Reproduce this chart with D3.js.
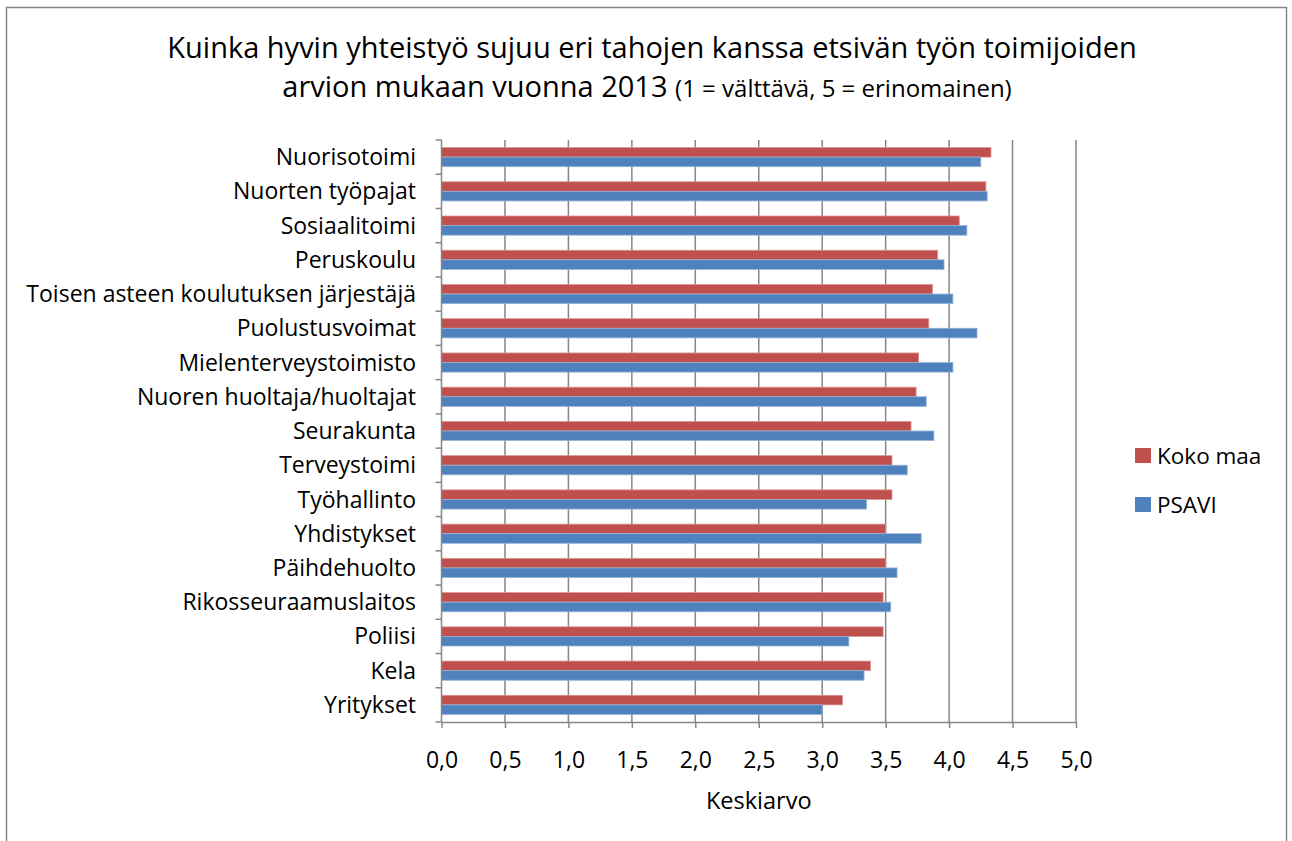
<!DOCTYPE html>
<html>
<head>
<meta charset="utf-8">
<script src="https://cdnjs.cloudflare.com/ajax/libs/d3/7.8.5/d3.min.js"></script>
<style>
  body { margin: 0; background: #fff; }
  text { font-family: "Open Sans", "Noto Sans", Arial, sans-serif; fill: #000; }
</style>
</head>
<body>
<div id="chart"></div>
<script>
// categories top to bottom
var categories = ["Nuorisotoimi", "Nuorten työpajat", "Sosiaalitoimi", "Peruskoulu",
  "Toisen asteen koulutuksen järjestäjä", "Puolustusvoimat", "Mielenterveystoimisto",
  "Nuoren huoltaja/huoltajat", "Seurakunta", "Terveystoimi", "Työhallinto", "Yhdistykset",
  "Päihdehuolto", "Rikosseuraamuslaitos", "Poliisi", "Kela", "Yritykset"];
var kokoMaa = [4.33, 4.29, 4.08, 3.91, 3.87, 3.84, 3.76, 3.74, 3.70, 3.55, 3.55, 3.50, 3.50, 3.48, 3.48, 3.38, 3.16];
var psavi   = [4.25, 4.30, 4.14, 3.96, 4.03, 4.22, 4.03, 3.82, 3.88, 3.67, 3.35, 3.78, 3.59, 3.54, 3.21, 3.33, 3.00];
var seriesNames = ["Koko maa", "PSAVI"];
var xTicks = [0, 0.5, 1, 1.5, 2, 2.5, 3, 3.5, 4, 4.5, 5];

var W = 1292, H = 841;
var margin = {top: 140, left: 441.5, right: 216, bottom: 119};
var colors = {"Koko maa": "#C0504D", "PSAVI": "#4F81BD"};
var strokes = {"Koko maa": "#D99694", "PSAVI": "#95B3D7"};

var svg = d3.select("#chart").append("svg").attr("width", W).attr("height", H);

// outer border
svg.append("rect").attr("x", 6.5).attr("y", 7.5).attr("width", 1280).attr("height", 850)
  .attr("fill", "none").attr("stroke", "#868686").attr("stroke-width", 1.5);

var x = d3.scaleLinear().domain([0, 5]).range([margin.left, W - margin.right]);
var y = d3.scaleBand().domain(categories).range([margin.top, H - margin.bottom]).paddingInner(0.44).paddingOuter(0.22);
var ySub = d3.scaleBand().domain(seriesNames).range([0, y.bandwidth()]);

// gridlines
svg.append("g").selectAll("line").data(xTicks.slice(1)).enter().append("line")
  .attr("x1", function(d){ return x(d); }).attr("x2", function(d){ return x(d); })
  .attr("y1", margin.top).attr("y2", H - margin.bottom)
  .attr("stroke", "#868686").attr("stroke-width", 1.5);

// bars
var rows = categories.map(function(c, i){ return {cat: c, vals: [
  {s: "Koko maa", v: kokoMaa[i]}, {s: "PSAVI", v: psavi[i]}]}; });

var groups = svg.append("g").selectAll("g").data(rows).enter().append("g")
  .attr("transform", function(d){ return "translate(0," + y(d.cat) + ")"; });
groups.selectAll("rect").data(function(d){ return d.vals; }).enter().append("rect")
  .attr("x", x(0))
  .attr("y", function(d){ return ySub(d.s); })
  .attr("width", function(d){ return x(d.v) - x(0); })
  .attr("height", ySub.bandwidth())
  .attr("fill", function(d){ return colors[d.s]; })
  .attr("stroke", function(d){ return strokes[d.s]; })
  .attr("stroke-width", 0.8);

// x axis
var xAxis = svg.append("g").attr("transform", "translate(0," + (H - margin.bottom) + ")")
  .call(d3.axisBottom(x).tickValues(xTicks).tickSize(6).tickSizeOuter(0)
    .tickFormat(function(d){ return d3.format(".1f")(d).replace(".", ","); }));
xAxis.select(".domain").attr("stroke", "#868686").attr("stroke-width", 1.5);
xAxis.selectAll(".tick line").attr("stroke", "#868686").attr("stroke-width", 1.5);
xAxis.selectAll(".tick text").attr("font-size", 23).attr("dy", 0).attr("y", 46)
  .style("font-family", "'Open Sans', Arial, sans-serif").attr("fill", "#000");

// y axis: ticks between categories
var yEdges = d3.range(categories.length + 1).map(function(i){
  return margin.top + i * (H - margin.bottom - margin.top) / categories.length; });
svg.append("line").attr("x1", x(0)).attr("x2", x(0)).attr("y1", margin.top).attr("y2", H - margin.bottom)
  .attr("stroke", "#868686").attr("stroke-width", 1.5);
svg.append("g").selectAll("line").data(yEdges).enter().append("line")
  .attr("x1", x(0) - 6).attr("x2", x(0)).attr("y1", function(d){ return d; }).attr("y2", function(d){ return d; })
  .attr("stroke", "#868686").attr("stroke-width", 1.5);

// category labels
svg.append("g").selectAll("text").data(categories).enter().append("text")
  .attr("x", 416).attr("y", function(d){ return y(d) + y.bandwidth() / 2; })
  .attr("dy", "0.35em").attr("text-anchor", "end").attr("font-size", 23)
  .text(function(d){ return d; });

// axis title
svg.append("text").attr("x", (x(0) + x(5)) / 2).attr("y", 809).attr("text-anchor", "middle")
  .attr("font-size", 23.5).text("Keskiarvo");

// chart title
var title = svg.append("text").attr("text-anchor", "middle").attr("font-size", 29);
title.append("tspan").attr("x", 652).attr("y", 58).text("Kuinka hyvin yhteistyö sujuu eri tahojen kanssa etsivän työn toimijoiden");
title.append("tspan").attr("x", 647).attr("y", 97).text("arvion mukaan vuonna 2013 ")
  .append("tspan").attr("font-size", 24).text("(1 = välttävä, 5 = erinomainen)");

// legend
var legend = svg.append("g").selectAll("g").data(seriesNames).enter().append("g")
  .attr("transform", function(d, i){ return "translate(1135," + (448 + i * 49) + ")"; });
legend.append("rect").attr("width", 16).attr("height", 15).attr("fill", function(d){ return colors[d]; });
legend.append("text").attr("x", 22).attr("y", 8).attr("dy", "0.35em").attr("font-size", 22.5)
  .text(function(d){ return d; });
</script>
</body>
</html>
